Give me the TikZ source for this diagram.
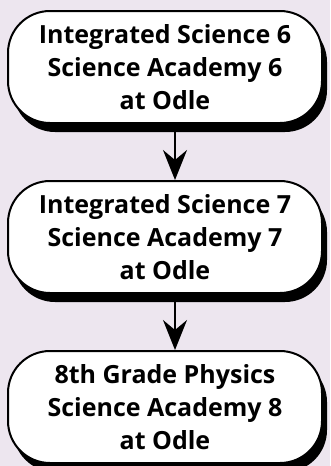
\documentclass[tikz,border=0pt]{standalone}
\usepackage{fontspec}
\setmainfont{Open Sans}
\usetikzlibrary{positioning,shadows,arrows.meta}
\definecolor{lavbg}{HTML}{EDE6EF}
\begin{document}
\begin{tikzpicture}[x=1pt,y=1pt,line cap=round,line join=round,
    course/.style={draw,line width=2pt,fill=white,rounded corners=42pt,
      minimum width=314pt,minimum height=112pt,align=center,inner sep=0pt,
      font=\fontsize{25}{33}\selectfont\bfseries,
      drop shadow={shadow xshift=5pt,shadow yshift=-9pt,fill=black,opacity=1}},
    flow/.style={line width=2pt,-{Stealth[length=30pt,width=24pt,inset=10pt]}},
    node distance=56pt]
  \fill[lavbg] (0,0) rectangle (330,-466);
  \useasboundingbox (0,0) rectangle (330,-466);
  \node[course] (sci6) at (165,-67) {Integrated Science 6\\Science Academy 6\\at Odle};
  \node[course,below=of sci6] (sci7) {Integrated Science 7\\Science Academy 7\\at Odle};
  \node[course,below=of sci7] (phys8) {8th Grade Physics\\Science Academy 8\\at Odle};
  \draw[flow] ([xshift=10pt]sci6.south) -- ([xshift=10pt]sci7.north);
  \draw[flow] ([xshift=10pt]sci7.south) -- ([xshift=10pt]phys8.north);
\end{tikzpicture}
\end{document}
